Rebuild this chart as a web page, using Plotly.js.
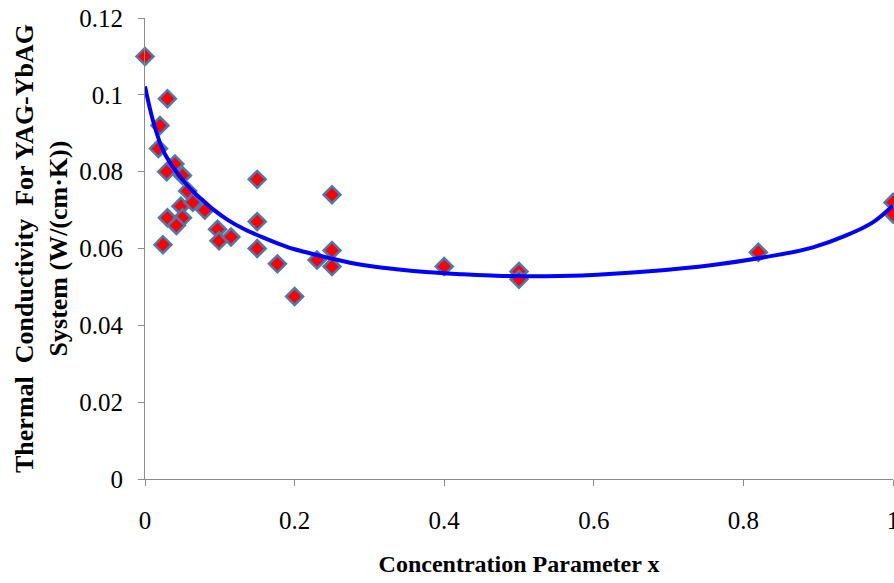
<!DOCTYPE html>
<html>
<head>
<meta charset="utf-8">
<script src="https://cdn.plot.ly/plotly-3.0.1.min.js"></script>
<style>
  html, body { margin: 0; padding: 0; background: #ffffff; }
  #chart { width: 894px; height: 583px; }
</style>
</head>
<body>
<div id="chart"></div>
<script>
// Measured thermal conductivity of YAG-YbAG samples
var measuredX = [0, 0.03, 0.02, 0.018, 0.04, 0.029, 0.05, 0.057, 0.048, 0.064, 0.08,
                 0.03, 0.05, 0.042, 0.024, 0.097, 0.099, 0.115,
                 0.15, 0.15, 0.15, 0.177, 0.2, 0.23, 0.25, 0.25, 0.25,
                 0.4, 0.5, 0.5, 0.82, 1.0, 1.0];
var measuredY = [0.110, 0.099, 0.092, 0.086, 0.082, 0.080, 0.079, 0.075, 0.071, 0.072, 0.070,
                 0.068, 0.068, 0.066, 0.061, 0.065, 0.062, 0.063,
                 0.078, 0.067, 0.060, 0.056, 0.0475, 0.057, 0.074, 0.0595, 0.0553,
                 0.0553, 0.054, 0.052, 0.059, 0.072, 0.069];

// Model curve through the composition range
var modelX = [0, 0.006, 0.013, 0.024, 0.037, 0.055, 0.066, 0.077, 0.089, 0.111, 0.133,
              0.155, 0.178, 0.2, 0.222, 0.247, 0.291, 0.336, 0.38, 0.425, 0.47, 0.514,
              0.585, 0.67, 0.759, 0.848, 0.893, 0.9375, 0.973, 1.0];
var modelY = [0.1022, 0.0969, 0.0917, 0.0856, 0.0813, 0.0768, 0.0745, 0.0726, 0.0705, 0.0674, 0.065,
              0.0631, 0.0613, 0.0598, 0.0587, 0.0575, 0.0557, 0.0546, 0.0538, 0.0533, 0.0529, 0.0528,
              0.053, 0.054, 0.0557, 0.0584, 0.0603, 0.0634, 0.0668, 0.0712];

var xTicks = [0, 0.2, 0.4, 0.6, 0.8, 1];
var xTickText = ['0', '0.2', '0.4', '0.6', '0.8', '1'];
var yTicks = [0, 0.02, 0.04, 0.06, 0.08, 0.1, 0.12];
var yTickText = ['0', '0.02', '0.04', '0.06', '0.08', '0.1', '0.12'];

var serif = 'Liberation Serif, Times New Roman, serif';
var axisGray = '#8c8c8c';

var traces = [
  {
    x: measuredX, y: measuredY,
    type: 'scatter', mode: 'markers',
    cliponaxis: false,
    marker: {
      symbol: 'diamond', size: 13, color: '#ff0000',
      line: { color: '#4a7ab0', width: 2.5 }
    },
    hoverinfo: 'x+y'
  },
  {
    x: modelX, y: modelY,
    type: 'scatter', mode: 'lines',
    line: { color: '#0000ff', width: 4, shape: 'spline', smoothing: 1 },
    hoverinfo: 'skip'
  }
];

var layout = {
  width: 894, height: 583,
  margin: { l: 145, r: 1, t: 18, b: 104 },
  paper_bgcolor: '#ffffff', plot_bgcolor: '#ffffff',
  showlegend: false,
  font: { family: serif, color: '#000000' },
  xaxis: {
    range: [0, 1], tickvals: xTicks, ticktext: xTickText,
    showgrid: false, zeroline: false,
    showline: true, linecolor: axisGray, linewidth: 1,
    ticks: 'outside', ticklen: 6, tickcolor: axisGray, tickwidth: 1,
    ticklabelstandoff: 13,
    ticklabeloverflow: 'allow',
    tickfont: { family: serif, size: 25, color: '#000000' },
    title: {
      text: '<b>Concentration Parameter x</b>',
      font: { family: serif, size: 24, color: '#000000' },
      standoff: 22
    }
  },
  yaxis: {
    range: [0, 0.12], tickvals: yTicks, ticktext: yTickText,
    showgrid: false, zeroline: false,
    showline: true, linecolor: axisGray, linewidth: 1,
    ticks: 'outside', ticklen: 6, tickcolor: axisGray, tickwidth: 1,
    ticklabelstandoff: 10,
    tickfont: { family: serif, size: 25, color: '#000000' },
    title: {
      text: '<b>Thermal  Conductivity  For YAG-YbAG<br>System (W/(cm·K))</b>',
      font: { family: serif, size: 26, color: '#000000' },
      standoff: 4
    }
  }
};

Plotly.newPlot('chart', traces, layout, { displayModeBar: false, staticPlot: true });
</script>
</body>
</html>
